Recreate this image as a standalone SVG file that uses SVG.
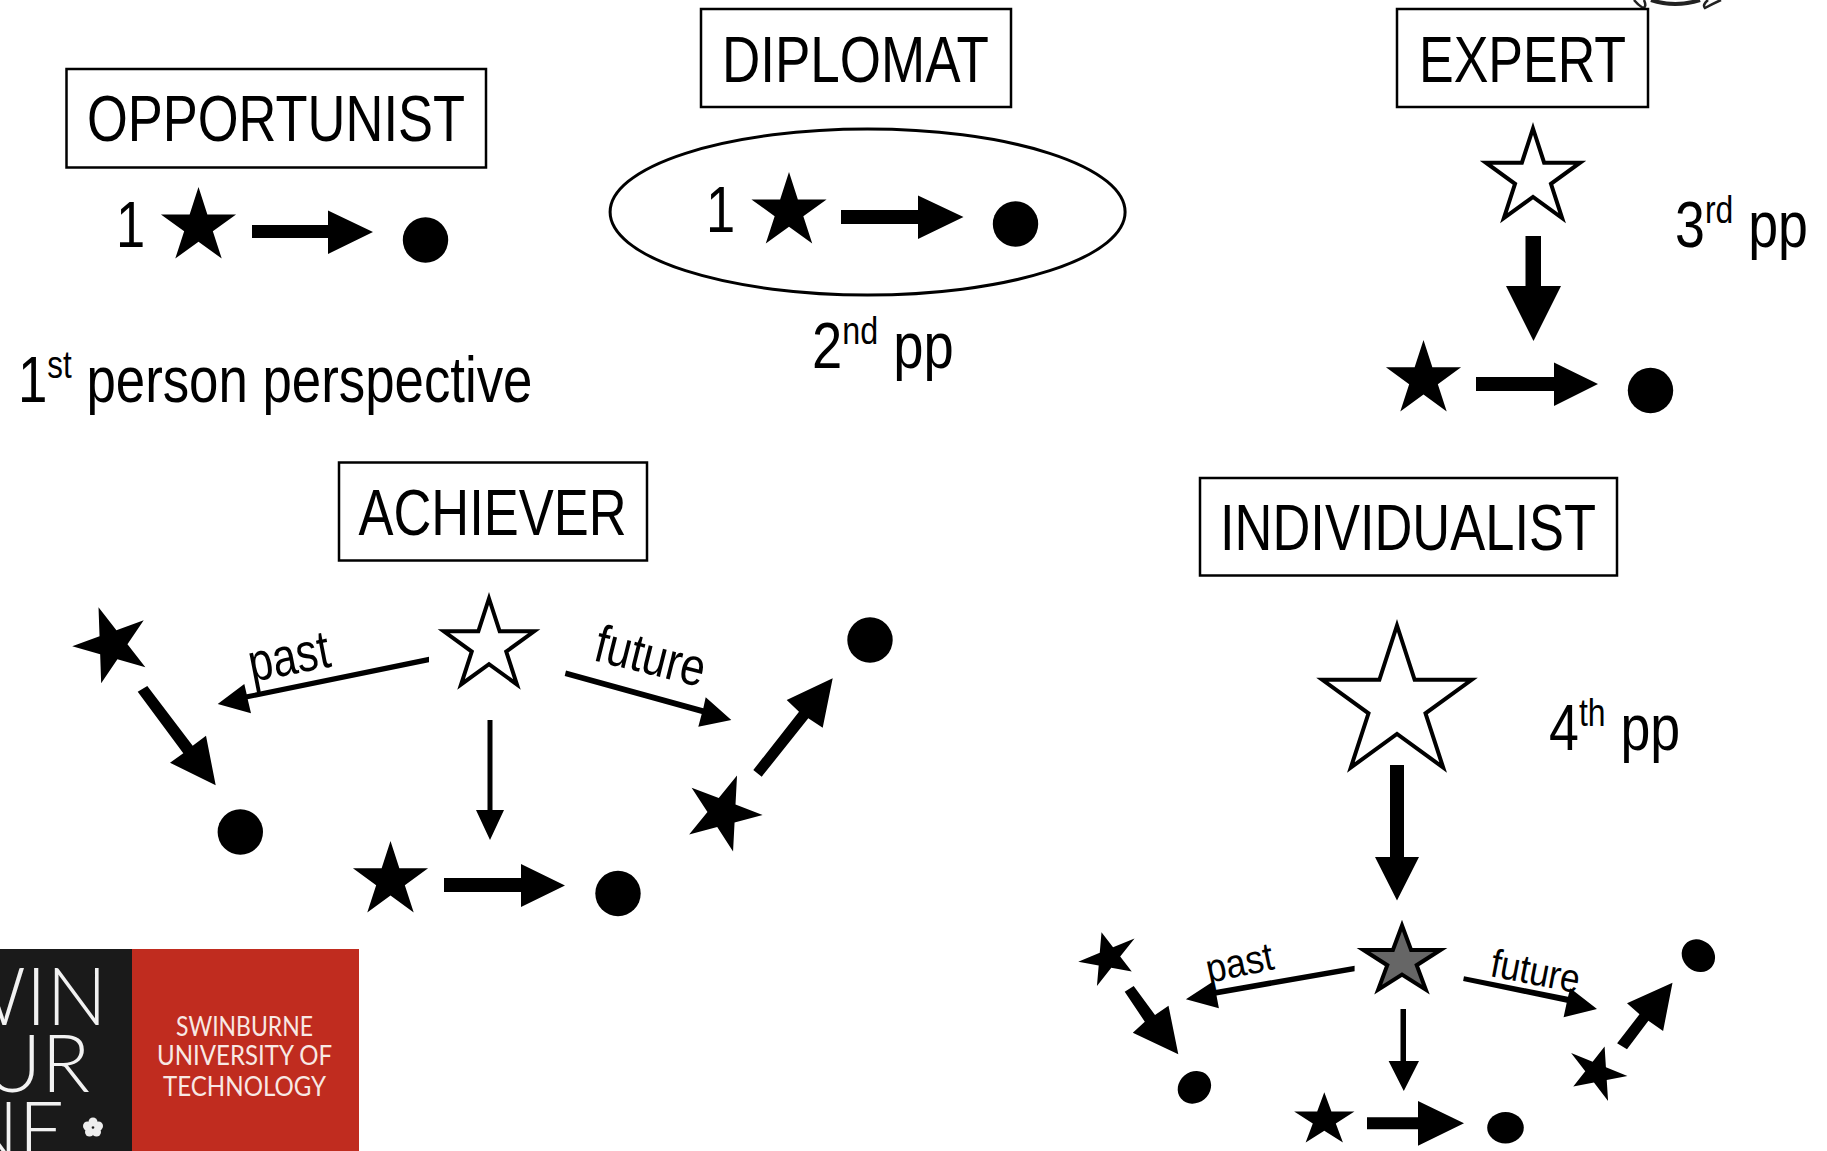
<svg xmlns="http://www.w3.org/2000/svg" width="1827" height="1151" viewBox="0 0 1827 1151">
<style>
text{font-family:"Liberation Sans",Arial,sans-serif;fill:#000}
.t{font-size:64px}
.l{font-size:64px}
.sm{font-size:38px}
.box{fill:#fff;stroke:#000;stroke-width:2.5}
.so{fill:#000}
.ou{fill:#fff;stroke:#000;stroke-width:4}
.lg{font-family:Lato,"Open Sans",sans-serif;font-size:26px;fill:#f8e8e4;text-anchor:middle}
.lb{font-family:Lato,"Open Sans",sans-serif;font-weight:300;font-size:80px;fill:#f2f2f2;text-anchor:end}
</style>
<defs>
<path id="star" d="M0,-1 L0.2245,-0.309 L0.951,-0.309 L0.363,0.118 L0.588,0.809 L0,0.382 L-0.588,0.809 L-0.363,0.118 L-0.951,-0.309 L-0.2245,-0.309 Z"/>
<path id="starline" vector-effect="non-scaling-stroke" d="M0,-1 L0.2245,-0.309 L0.951,-0.309 L0.363,0.118 L0.588,0.809 L0,0.382 L-0.588,0.809 L-0.363,0.118 L-0.951,-0.309 L-0.2245,-0.309 Z"/>
</defs>
<rect width="1827" height="1151" fill="#fff"/>

<g id="fragment" fill="none" stroke="#222" stroke-width="2.5">
<path d="M1634,0 Q1638,5 1643,8 Q1647,7 1644,0"/>
<path d="M1651,0 Q1675,8 1700,0" stroke-width="4"/>
<path d="M1721,0 Q1712,4 1705,8 Q1702,5 1708,0"/>
</g>

<g id="opportunist">
<rect class="box" x="66.5" y="69" width="419.5" height="98.5"/>
<text class="t" x="87" y="141" textLength="378" lengthAdjust="spacingAndGlyphs">OPPORTUNIST</text>
</g>
<g id="opp-actor"><text class="l" transform="translate(116,247) scale(.82,1)">1</text><use href="#star" class="so" transform="translate(198.5,226.6) scale(39.5)"/></g>
<circle id="opp-result" cx="425.5" cy="240" r="22.7"/>
<text id="first-pp" class="l" transform="translate(18,402) scale(.825,1)">1<tspan class="sm" dy="-24">st</tspan><tspan dy="24"> person perspective</tspan></text>

<g id="diplomat">
<rect class="box" x="701" y="9" width="310" height="98"/>
<text class="t" x="722" y="81.5" textLength="267" lengthAdjust="spacingAndGlyphs">DIPLOMAT</text>
</g>
<ellipse id="diplomat-ring" cx="867.6" cy="212" rx="257.5" ry="83" fill="none" stroke="#000" stroke-width="3"/>
<g id="dip-actor"><text class="l" transform="translate(706,232) scale(.82,1)">1</text><use href="#star" class="so" transform="translate(789,211.6) scale(39.5)"/></g>
<circle id="dip-result" cx="1015.5" cy="224" r="22.7"/>
<text id="second-pp" class="l" transform="translate(812,368) scale(.85,1)">2<tspan class="sm" dy="-24">nd</tspan><tspan dy="24"> pp</tspan></text>

<g id="expert">
<rect class="box" x="1397" y="9" width="251" height="98"/>
<text class="t" x="1419" y="81.5" textLength="207" lengthAdjust="spacingAndGlyphs">EXPERT</text>
</g>
<use id="exp-self" href="#starline" class="ou" transform="translate(1533,178) scale(49.5)"/>
<text id="third-pp" class="l" transform="translate(1675,247) scale(.84,1)">3<tspan class="sm" dy="-24">rd</tspan><tspan dy="24"> pp</tspan></text>
<use id="exp-actor" href="#star" class="so" transform="translate(1423.5,379.5) scale(39.5)"/>
<circle id="exp-result" cx="1650.5" cy="390.5" r="22.7"/>

<g id="achiever">
<rect class="box" x="339" y="462.5" width="308" height="98"/>
<text class="t" x="358.5" y="535" textLength="268" lengthAdjust="spacingAndGlyphs">ACHIEVER</text>
</g>
<use id="ach-self" href="#starline" class="ou" transform="translate(489,646) scale(47.5)"/>
<use id="ach-past" href="#star" class="so" transform="translate(112.2,644.9) rotate(-20) scale(40)"/>
<circle id="ach-past-result" cx="240.3" cy="832" r="22.7"/>
<use id="ach-now" href="#star" class="so" transform="translate(390.5,880.5) scale(39.5)"/>
<circle id="ach-now-result" cx="618" cy="893.5" r="22.7"/>
<use id="ach-future" href="#star" class="so" transform="translate(722.7,812.8) rotate(21) scale(40)"/>
<circle id="ach-future-result" cx="870" cy="640" r="22.7"/>

<g id="individualist">
<rect class="box" x="1200" y="478" width="417" height="97.5"/>
<text class="t" x="1220" y="550" textLength="376" lengthAdjust="spacingAndGlyphs">INDIVIDUALIST</text>
</g>
<use id="ind-self" href="#starline" class="ou" transform="translate(1397,704) scale(78.5)"/>
<text id="fourth-pp" class="l" transform="translate(1549,750) scale(.84,1)">4<tspan class="sm" dy="-24">th</tspan><tspan dy="24"> pp</tspan></text>
<use id="ind-now-self" href="#starline" class="ou" style="fill:#666" transform="matrix(40.5,0,0,35.5,1402,961)"/>
<use id="ind-past" href="#star" class="so" transform="matrix(29.6,-12.2,7.1,25.7,1108.6,958)"/>
<ellipse id="ind-past-result" cx="1194.4" cy="1087.3" rx="17.5" ry="15.5" transform="rotate(-40 1194.4 1087.3)"/>
<use id="ind-now" href="#star" class="so" transform="matrix(31.7,0,0,27.8,1324.3,1120.1)"/>
<ellipse id="ind-now-result" cx="1505.5" cy="1127.7" rx="18.3" ry="15.7"/>
<use id="ind-future" href="#star" class="so" transform="matrix(29.6,12.2,-7.7,26.2,1596.9,1072.6)"/>
<ellipse id="ind-future-result" cx="1698.4" cy="955.7" rx="17.5" ry="15.5" transform="rotate(40 1698.4 955.7)"/>

<g id="connectors" fill="#000">
<polygon points="252,225 328,225 328,210.5 373,232 328,254 328,238 252,238"/>
<polygon points="841,210 918,210 918,195.5 963.5,217 918,239 918,224 841,224"/>
<polygon points="1525.5,236 1541,236 1541,286 1561,286 1533.5,341 1506,286 1525.5,286"/>
<polygon points="1476,377 1554,377 1554,362.5 1598,384 1554,406 1554,391 1476,391"/>
<polygon points="137.7,691.7 147.3,686 192.7,745.7 206,735.7 215.7,785.3 170,762.7 183.3,753.3"/>
<polygon points="429,656.7 246.7,694.3 244.3,684 217.7,704 251,713.3 247.7,699.3 429,662.3"/>
<polygon points="566,670.5 703.3,708.3 705.7,697.3 731.3,720 698.3,726.7 701.7,714 564.7,676"/>
<polygon points="487.5,720 492.5,720 492.5,810 504,810 490,840 476,810 487.5,810"/>
<polygon points="444,878 521,878 521,864 565,885.5 521,907 521,892 444,892"/>
<polygon points="753.3,770 761.7,776.7 808.3,718.3 822.7,727.7 832.7,678.3 786.7,700 799,711.7"/>
<polygon points="1390,765 1404,765 1404,857 1419,857 1397,900.5 1375,857 1390,857"/>
<polygon points="1124.7,991.7 1133.7,986 1155,1015 1168.5,1005.7 1178.3,1054.3 1132.8,1032.7 1144.8,1021.7"/>
<polygon points="1354.6,965.7 1215.2,990 1212.7,981.7 1185.9,999.3 1218.9,1008.3 1216.5,995.5 1354.6,971.3"/>
<polygon points="1464,976.3 1568,996.7 1570.3,988.3 1597,1009 1563.6,1017.3 1566.7,1002.7 1463.1,981"/>
<polygon points="1400.5,1009 1406,1009 1406,1061 1419,1061 1403.8,1091 1388.6,1061 1400.5,1061"/>
<polygon points="1367,1117.3 1418,1117.3 1418,1101 1464,1123.3 1418,1145.7 1418,1129.3 1367,1129.3"/>
<polygon points="1617.1,1043.3 1627,1049.3 1648.4,1020.7 1663.1,1031 1672.5,982.7 1627,1003.3 1639.5,1014.3"/>
</g>

<g id="connector-labels">
<text transform="translate(252,682) rotate(-11)" font-size="54" textLength="82" lengthAdjust="spacingAndGlyphs">past</text>
<text transform="translate(592,660) rotate(14)" font-size="53" textLength="112" lengthAdjust="spacingAndGlyphs">future</text>
<text transform="translate(1209,983) rotate(-12)" font-size="40" textLength="68" lengthAdjust="spacingAndGlyphs">past</text>
<text transform="translate(1489,976) rotate(11)" font-size="40" textLength="90" lengthAdjust="spacingAndGlyphs">future</text>
</g>

<g id="logo">
<rect x="0" y="949" width="132" height="202" fill="#1a1a1a"/>
<rect x="132" y="949" width="227" height="202" fill="#c02c1f"/>
<text class="lb" x="107" y="1025">WIN</text>
<text class="lb" x="90" y="1092">UR</text>
<text class="lb" x="65" y="1159">NE</text>
<g fill="#eee"><circle cx="93" cy="1122" r="4.5"/><circle cx="98.5" cy="1126" r="4.5"/><circle cx="96.5" cy="1132" r="4.5"/><circle cx="89.5" cy="1132" r="4.5"/><circle cx="87.5" cy="1126" r="4.5"/></g>
<text class="lg" x="244.5" y="1036" textLength="137" lengthAdjust="spacingAndGlyphs">SWINBURNE</text>
<text class="lg" x="244.5" y="1065" textLength="175" lengthAdjust="spacingAndGlyphs">UNIVERSITY OF</text>
<text class="lg" x="244.5" y="1096" textLength="163" lengthAdjust="spacingAndGlyphs">TECHNOLOGY</text>
</g>
</svg>
